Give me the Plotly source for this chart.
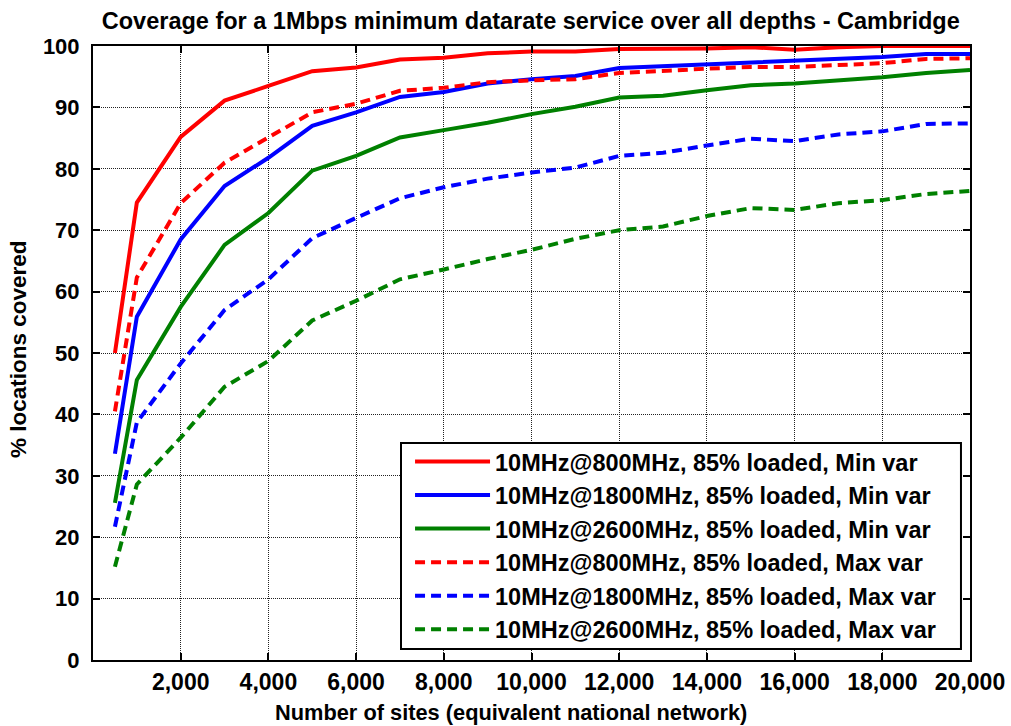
import plotly.graph_objects as go

sites = [500, 1000, 2000, 3000, 4000, 5000, 6000, 7000, 8000, 9000, 10000,
         11000, 12000, 13000, 14000, 15000, 16000, 17000, 18000, 19000, 20000]

cov_800_min = [50.0, 74.5, 85.2, 91.1, 93.5, 95.9, 96.5, 97.8, 98.1, 98.8, 99.1,
               99.1, 99.5, 99.5, 99.6, 99.8, 99.4, 99.8, 100.0, 100.0, 100.0]
cov_1800_min = [33.6, 55.9, 68.5, 77.2, 81.8, 87.0, 89.2, 91.7, 92.5, 93.9, 94.6,
                95.1, 96.4, 96.7, 97.1, 97.4, 97.7, 98.0, 98.2, 98.7, 98.7]
cov_2600_min = [25.6, 45.6, 57.5, 67.6, 72.8, 79.7, 82.1, 85.1, 86.3, 87.5, 88.9,
                90.1, 91.6, 91.9, 92.8, 93.6, 93.9, 94.4, 94.9, 95.6, 96.1]
cov_800_max = [40.5, 62.3, 74.4, 81.0, 85.1, 89.2, 90.6, 92.7, 93.2, 94.1, 94.4,
               94.6, 95.6, 96.0, 96.3, 96.6, 96.6, 96.9, 97.2, 97.9, 98.0]
cov_1800_max = [21.7, 38.7, 48.3, 57.0, 62.0, 68.7, 72.0, 75.2, 77.0, 78.4, 79.4,
                80.2, 82.1, 82.6, 83.8, 84.9, 84.5, 85.6, 86.1, 87.3, 87.4]
cov_2600_max = [15.2, 28.6, 36.2, 44.5, 48.7, 55.3, 58.5, 62.0, 63.6, 65.3, 66.8,
                68.6, 70.0, 70.6, 72.3, 73.6, 73.3, 74.4, 74.9, 75.9, 76.4]

series_names = [
    "10MHz@800MHz, 85% loaded, Min var",
    "10MHz@1800MHz, 85% loaded, Min var",
    "10MHz@2600MHz, 85% loaded, Min var",
    "10MHz@800MHz, 85% loaded, Max var",
    "10MHz@1800MHz, 85% loaded, Max var",
    "10MHz@2600MHz, 85% loaded, Max var",
]
series_values = [cov_800_min, cov_1800_min, cov_2600_min,
                 cov_800_max, cov_1800_max, cov_2600_max]
series_colors = ["#ff0000", "#0000ff", "#008000", "#ff0000", "#0000ff", "#008000"]
series_dash = ["solid", "solid", "solid", "10px,6px", "10px,6px", "10px,6px"]

x_ticks = [2000, 4000, 6000, 8000, 10000, 12000, 14000, 16000, 18000, 20000]
x_tick_labels = ["2,000", "4,000", "6,000", "8,000", "10,000", "12,000",
                 "14,000", "16,000", "18,000", "20,000"]
y_ticks = [0, 10, 20, 30, 40, 50, 60, 70, 80, 90, 100]

FONT = "Liberation Sans, Arial, sans-serif"

fig = go.Figure()
for name, vals, col, dsh in zip(series_names, series_values, series_colors, series_dash):
    fig.add_trace(go.Scatter(
        x=sites, y=vals, mode="lines", name=name,
        line=dict(color=col, width=4, dash=dsh),
    ))

axis_common = dict(
    showline=True, linecolor="black", linewidth=2, mirror="ticks",
    ticks="inside", ticklen=7, tickwidth=1.5, tickcolor="black",
    showgrid=True, gridcolor="#222222", gridwidth=1, griddash="1px,1px",
    zeroline=False, automargin=False,
)

fig.update_layout(
    width=1011, height=726,
    margin=dict(l=93, r=41, t=46, b=66, autoexpand=False),
    paper_bgcolor="white", plot_bgcolor="white",
    title=dict(
        text="Coverage for a 1Mbps minimum datarate service over all depths - Cambridge",
        font=dict(family=FONT, size=23.5, color="black", weight="bold"),
        x=0.525, xanchor="center", y=0.972, yanchor="middle",
    ),
    xaxis=dict(
        range=[0, 20000], tickvals=x_ticks, ticktext=x_tick_labels,
        tickfont=dict(family=FONT, size=23, color="black", weight="bold"),
        **axis_common,
    ),
    yaxis=dict(
        range=[0, 100], tickvals=y_ticks, ticklabelstandoff=7,
        tickfont=dict(family=FONT, size=22, color="black", weight="bold"),
        **axis_common,
    ),
    legend=dict(
        x=0.3615, y=0.0135, xanchor="left", yanchor="bottom",
        bgcolor="rgba(0,0,0,0)", borderwidth=0,
        font=dict(family=FONT, size=23.5, color="black", weight="bold"),
        itemwidth=75, tracegroupgap=0,
    ),
    showlegend=True,
    shapes=[
        dict(type="rect", xref="paper", yref="paper", layer="above",
             x0=0.3512, x1=0.9897, y0=0.0179, y1=0.3534,
             fillcolor="white", line=dict(color="black", width=2)),
    ],
    annotations=[
        dict(text="Number of sites (equivalent national network)",
             xref="paper", yref="paper", x=0.477, y=-0.0863,
             xanchor="center", yanchor="middle", showarrow=False,
             font=dict(family=FONT, size=21.8, color="black", weight="bold")),
        dict(text="% locations covered",
             xref="paper", yref="paper", x=-0.0855, y=0.5065,
             xanchor="center", yanchor="middle", showarrow=False, textangle=-90,
             font=dict(family=FONT, size=22.5, color="black", weight="bold")),
    ],
)

fig.write_html("out.html")
